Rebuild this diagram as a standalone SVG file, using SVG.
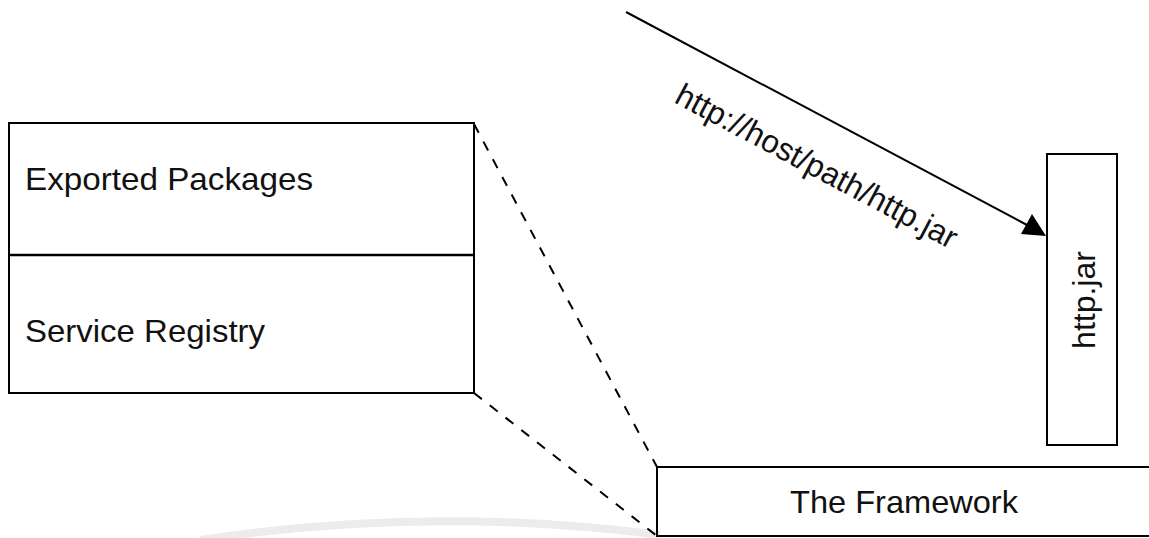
<svg xmlns="http://www.w3.org/2000/svg" width="1149" height="538" viewBox="0 0 1149 538">
<style>
.box{fill:#ffffff;stroke:#000000;stroke-width:2}
.lbl{font-family:"Liberation Sans",Arial,sans-serif;font-size:32px;fill:#111111}
.dash{fill:none;stroke:#000000;stroke-width:2;stroke-dasharray:10 10}
.conn{fill:none;stroke:#000000;stroke-width:2}
</style>
<rect x="0" y="0" width="1149" height="538" fill="#ffffff"/>
<path d="M 200 540 Q 430 505 660 535" fill="none" stroke="#ececec" stroke-width="8"/>
<g id="connectors">
<line class="dash" x1="474" y1="124" x2="657" y2="467"/>
<line class="dash" x1="474" y1="393" x2="657" y2="536"/>
<line class="conn" x1="626" y1="12" x2="1027" y2="225"/>
<polygon points="1046,236 1021,234 1032,214" fill="#000000"/>
<text class="lbl" transform="translate(673,102) rotate(28)" textLength="314" lengthAdjust="spacingAndGlyphs">http://host/path/http.jar</text>
</g>
<g id="bundle">
<rect class="box" x="9" y="123" width="465" height="270"/>
<line x1="9" y1="255" x2="474" y2="255" stroke="#000000" stroke-width="2.5"/>
</g>
<g id="exported-packages">
<text class="lbl" x="25" y="190" textLength="288" lengthAdjust="spacingAndGlyphs">Exported Packages</text>
</g>
<g id="service-registry">
<text class="lbl" x="25" y="342" textLength="240" lengthAdjust="spacingAndGlyphs">Service Registry</text>
</g>
<g id="http-jar">
<rect class="box" x="1047" y="154" width="70" height="291"/>
<text class="lbl" transform="translate(1095,300) rotate(-90)" text-anchor="middle">http.jar</text>
</g>
<g id="framework">
<path class="conn" d="M 1152 467 L 657 467 L 657 536 L 1152 536"/>
<text class="lbl" x="790" y="513" textLength="228" lengthAdjust="spacingAndGlyphs">The Framework</text>
</g>
</svg>
